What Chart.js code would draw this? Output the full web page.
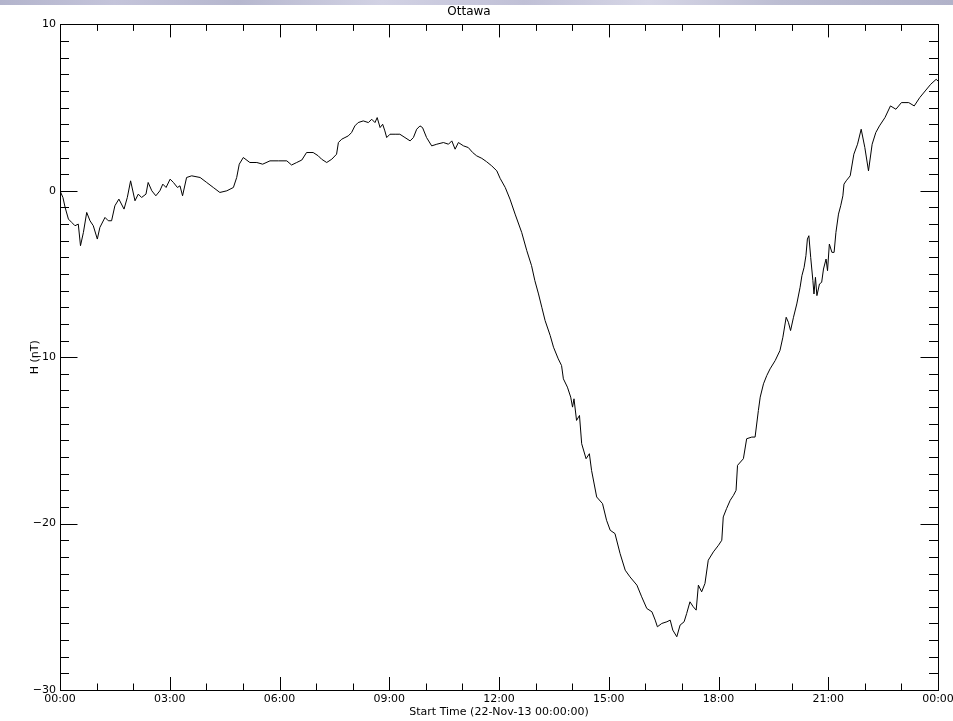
<!DOCTYPE html>
<html>
<head>
<meta charset="utf-8">
<script src="https://cdn.jsdelivr.net/npm/chart.js@4.4.0/dist/chart.umd.min.js"></script>
<style>
    html, body { margin: 0; padding: 0; background: #fff; }
    #wrap { position: relative; width: 953px; height: 721px; }
    #band {
        position: absolute; left: 0; top: 0; width: 953px; height: 5px;
        background: linear-gradient(90deg, #b3b4cc 0%, #c4c4da 12%, #b6b7ce 25%, #d2d2e4 40%, #c0c0d6 55%, #d6d6e6 68%, #bcbdd2 82%, #b1b2c9 100%);
    }
</style>
</head>
<body>
<div id="wrap">
    <canvas id="chart" width="953" height="721"></canvas>
    <div id="band"></div>
</div>
<script>
// H component, Ottawa, 22-Nov-13 (hours since 00:00, nT)
const hours = [
    0.00, 0.08, 0.14, 0.23, 0.32, 0.41, 0.50, 0.56, 0.64, 0.73, 0.82, 0.91, 1.02, 1.09, 1.23, 1.32,
    1.41, 1.50, 1.61, 1.75, 1.84, 1.93, 2.05, 2.14, 2.23, 2.35, 2.41, 2.51, 2.62, 2.73, 2.81, 2.90,
    3.01, 3.10, 3.21, 3.28, 3.35, 3.46, 3.60, 3.83, 4.01, 4.19, 4.37, 4.56, 4.74, 4.83, 4.90, 5.01,
    5.19, 5.38, 5.54, 5.74, 5.97, 6.20, 6.33, 6.47, 6.61, 6.74, 6.92, 7.06, 7.15, 7.29, 7.43, 7.56,
    7.61, 7.70, 7.79, 7.88, 7.97, 8.06, 8.15, 8.29, 8.43, 8.52, 8.61, 8.67, 8.75, 8.82, 8.88, 8.93,
    9.02, 9.16, 9.29, 9.43, 9.57, 9.66, 9.75, 9.84, 9.91, 10.02, 10.16, 10.30, 10.48, 10.62, 10.71, 10.80,
    10.89, 11.03, 11.16, 11.28, 11.39, 11.53, 11.66, 11.80, 11.94, 12.03, 12.17, 12.30, 12.44, 12.62, 12.76, 12.89,
    12.98, 13.08, 13.17, 13.26, 13.40, 13.49, 13.62, 13.71, 13.76, 13.87, 13.96, 14.01, 14.05, 14.12, 14.20, 14.26,
    14.38, 14.47, 14.53, 14.67, 14.83, 14.94, 15.04, 15.17, 15.31, 15.45, 15.58, 15.77, 15.90, 16.04, 16.18, 16.27,
    16.33, 16.45, 16.59, 16.68, 16.75, 16.86, 16.95, 17.06, 17.13, 17.22, 17.31, 17.39, 17.45, 17.54, 17.63, 17.72,
    17.86, 18.00, 18.09, 18.13, 18.22, 18.32, 18.41, 18.48, 18.52, 18.68, 18.77, 18.91, 19.00, 19.09, 19.14, 19.23,
    19.32, 19.41, 19.55, 19.68, 19.76, 19.85, 19.91, 19.97, 20.05, 20.14, 20.23, 20.28, 20.34, 20.39, 20.43, 20.47,
    20.52, 20.58, 20.61, 20.65, 20.69, 20.76, 20.82, 20.87, 20.94, 20.98, 21.03, 21.10, 21.16, 21.21, 21.28, 21.34,
    21.40, 21.43, 21.49, 21.60, 21.70, 21.80, 21.90, 22.00, 22.10, 22.20, 22.30, 22.40, 22.55, 22.70, 22.85, 23.00,
    23.20, 23.35, 23.50, 23.65, 23.80, 23.95, 24.00,
];

const fieldH = [
    0.0, -0.4, -1.0, -1.7, -1.9, -2.1, -2.0, -3.3, -2.5, -1.3, -1.8, -2.1, -2.9, -2.2, -1.6, -1.8,
    -1.8, -0.9, -0.5, -1.1, -0.4, 0.6, -0.6, -0.2, -0.4, -0.2, 0.5, 0.0, -0.3, 0.0, 0.4, 0.2,
    0.7, 0.5, 0.2, 0.3, -0.3, 0.8, 0.9, 0.8, 0.5, 0.2, -0.1, 0.0, 0.2, 0.8, 1.6, 2.0,
    1.7, 1.7, 1.6, 1.8, 1.8, 1.8, 1.55, 1.7, 1.85, 2.3, 2.3, 2.1, 1.9, 1.7, 1.9, 2.2,
    2.9, 3.1, 3.2, 3.3, 3.5, 3.9, 4.1, 4.2, 4.1, 4.3, 4.1, 4.4, 3.8, 4.0, 3.6, 3.2,
    3.4, 3.4, 3.4, 3.2, 3.0, 3.2, 3.7, 3.9, 3.8, 3.2, 2.7, 2.8, 2.9, 2.8, 3.0, 2.5,
    2.9, 2.7, 2.6, 2.3, 2.1, 1.95, 1.75, 1.5, 1.2, 0.75, 0.2, -0.5, -1.4, -2.5, -3.6, -4.5,
    -5.4, -6.2, -7.0, -7.8, -8.7, -9.4, -10.1, -10.5, -11.3, -11.8, -12.4, -13.0, -12.5, -13.8, -13.5, -15.2,
    -16.1, -15.8, -16.8, -18.4, -18.8, -19.8, -20.4, -20.6, -21.8, -22.8, -23.2, -23.7, -24.4, -25.1, -25.3, -25.8,
    -26.2, -26.0, -25.9, -25.8, -26.4, -26.8, -26.1, -25.9, -25.4, -24.7, -25.0, -25.2, -23.7, -24.1, -23.6, -22.2,
    -21.7, -21.3, -21.0, -19.6, -19.1, -18.6, -18.3, -18.0, -16.5, -16.1, -14.9, -14.8, -14.8, -13.2, -12.4, -11.6,
    -11.1, -10.7, -10.2, -9.6, -8.8, -7.6, -7.9, -8.4, -7.6, -6.8, -5.8, -5.1, -4.6, -3.9, -2.9, -2.7,
    -4.0, -5.4, -6.2, -5.2, -6.3, -5.6, -5.5, -4.7, -4.1, -4.8, -3.2, -3.7, -3.7, -2.5, -1.4, -0.9,
    -0.3, 0.4, 0.6, 0.9, 2.2, 2.8, 3.7, 2.6, 1.2, 2.8, 3.5, 3.9, 4.4, 5.1, 4.9, 5.3,
    5.3, 5.1, 5.6, 6.0, 6.4, 6.7, 6.6,
];

const xTicks = [0, 3, 6, 9, 12, 15, 18, 21, 24];
const yTicks = [-30, -20, -10, 0, 10];

const FONT = "'DejaVu Sans', sans-serif";

function hourLabel(value) {
    const h = Math.round(value) % 24;
    return `${String(h).padStart(2, '0')}:00`;
}

// IDL style frame: box on all four sides, ticks pointing inward
const frameTicks = {
    id: 'frameTicks',
    afterDraw(chart) {
        const { ctx, chartArea: area } = chart;
        const x = chart.scales.x;
        const y = chart.scales.y;
        const xMajor = 13, xMinor = 6.5;
        const yMajor = 17.5, yMinor = 9;

        ctx.save();
        ctx.strokeStyle = '#000';
        ctx.lineWidth = 1;
        ctx.beginPath();

        for (let h = x.min; h <= x.max; h += 1) {
            const px = Math.round(x.getPixelForValue(h)) + 0.5;
            const len = xTicks.includes(h) ? xMajor : xMinor;
            ctx.moveTo(px, area.bottom);
            ctx.lineTo(px, area.bottom - len);
            ctx.moveTo(px, area.top);
            ctx.lineTo(px, area.top + len);
        }

        for (let v = y.min; v <= y.max; v += 1) {
            const py = Math.round(y.getPixelForValue(v)) + 0.5;
            const len = yTicks.includes(v) ? yMajor : yMinor;
            ctx.moveTo(area.left, py);
            ctx.lineTo(area.left + len, py);
            ctx.moveTo(area.right, py);
            ctx.lineTo(area.right - len, py);
        }
        ctx.stroke();

        ctx.strokeRect(Math.round(area.left) + 0.5, Math.round(area.top) + 0.5,
            Math.round(area.right - area.left), Math.round(area.bottom - area.top));
        ctx.restore();
    },
};

new Chart(document.getElementById('chart'), {
    type: 'line',
    data: {
        datasets: [{
            label: 'H',
            data: hours.map((h, i) => ({ x: h, y: fieldH[i] })),
            borderColor: '#000',
            borderWidth: 1,
            pointRadius: 0,
            tension: 0,
            fill: false,
        }],
    },
    options: {
        responsive: false,
        animation: false,
        layout: { padding: { left: 0, right: 15, top: 0, bottom: 0 } },
        plugins: {
            legend: { display: false },
            tooltip: { enabled: false },
            title: {
                display: true,
                text: 'Ottawa',
                color: '#000',
                font: { family: FONT, size: 12, weight: 'normal' },
                padding: { top: 5, bottom: 5 },
            },
        },
        scales: {
            x: {
                type: 'linear',
                min: 0,
                max: 24,
                grid: { display: false, drawTicks: false },
                border: { display: false },
                ticks: {
                    stepSize: 3,
                    autoSkip: false,
                    maxRotation: 0,
                    padding: 3,
                    color: '#000',
                    font: { family: FONT, size: 11 },
                    callback: value => hourLabel(value),
                },
                title: {
                    display: true,
                    text: 'Start Time (22-Nov-13 00:00:00)',
                    color: '#000',
                    font: { family: FONT, size: 11 },
                    padding: { top: 0, bottom: 2 },
                },
                afterFit: scale => {
                    scale.height = 31;
                    scale.paddingRight = 0;
                },
            },
            y: {
                min: -30,
                max: 10,
                grid: { display: false, drawTicks: false },
                border: { display: false },
                ticks: {
                    stepSize: 10,
                    padding: 4,
                    color: '#000',
                    font: { family: FONT, size: 11 },
                    callback: value => String(value).replace('-', '\u2212'),
                },
                title: {
                    display: true,
                    text: 'H (nT)',
                    color: '#000',
                    font: { family: FONT, size: 11 },
                    padding: { top: 29, bottom: 0 },
                },
                afterFit: scale => { scale.width = 60; },
            },
        },
    },
    plugins: [frameTicks],
});
</script>
</body>
</html>
